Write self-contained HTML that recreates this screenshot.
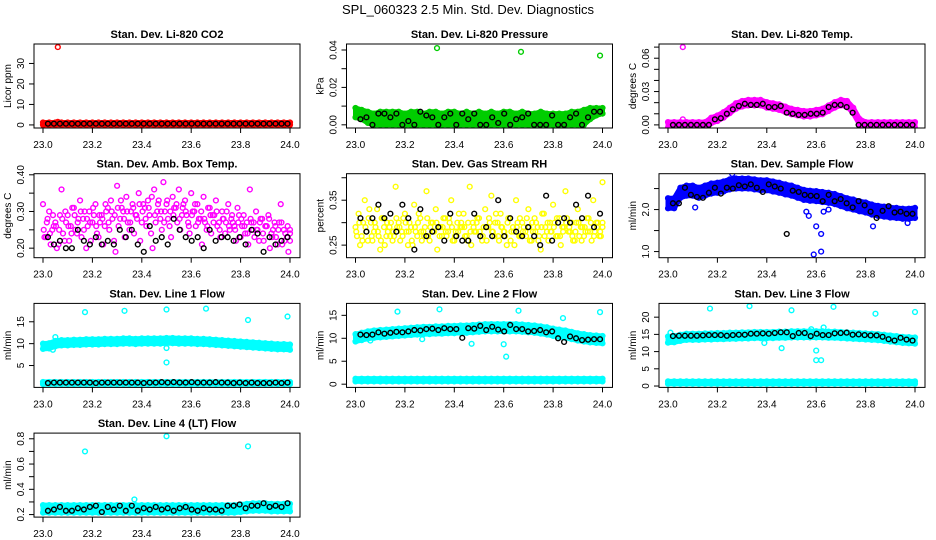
<!DOCTYPE html>
<html><head><meta charset="utf-8"><style>
html,body{margin:0;padding:0;background:#fff}
svg{display:block}
text{font-family:"Liberation Sans",sans-serif}
</style></head><body>
<svg id="chart" width="936" height="540" viewBox="0 0 936 540">
<text x="468" y="14" text-anchor="middle" font-size="13">SPL_060323  2.5 Min. Std. Dev. Diagnostics</text>
</svg>
<script>
// ---------- DATA ----------
const xTicks = [23.0, 23.2, 23.4, 23.6, 23.8, 24.0];
const xTickLabels = ["23.0","23.2","23.4","23.6","23.8","24.0"];

// CO2
const co2BandLo = [0,0,0,0,0,0,0,0,0,0,0,0,0,0,0,0,0,0,0,0,0,0,0,0,0,0,0,0,0,0,0,0,0,0,0,0,0,0,0,0,0];
const co2BandHi = [1.2,1.2,1.2,1.2,1.2,1.2,1.2,1.2,1.2,1.2,1.2,1.2,1.2,1.2,1.2,1.2,1.2,1.2,1.2,1.2,1.2,1.2,1.2,1.2,1.2,1.2,1.2,1.2,1.2,1.2,1.2,1.2,1.2,1.2,1.2,1.2,1.2,1.2,1.2,1.2,1.2];
const co2OutX = [23.06, 23.06]; const co2OutY = [38, 1.5];
const co2Black = [0.6,0.6,0.6,0.6,0.6,0.6,0.6,0.6,0.6,0.6,0.6,0.6,0.6,0.6,0.6,0.6,0.6,0.6,0.6,0.6,0.6,0.6,0.6,0.6,0.6,0.6,0.6,0.6,0.6,0.6,0.6,0.6,0.6,0.6,0.6,0.6,0.6,0.6,0.6,0.6,0.6];

// Pressure
const presBandLo = [0.004,0.003,0.001,0,0,0,0,0,0,0,0,0,0,0,0,0,0,0,0,0,0,0,0,0,0,0,0,0,0,0,0,0,0,0,0,0,0,0,0.003,0.005,0.006];
const presBandHi = [0.009,0.008,0.007,0.006,0.007,0.007,0.007,0.007,0.006,0.007,0.007,0.006,0.007,0.007,0.006,0.007,0.007,0.006,0.007,0.006,0.007,0.006,0.007,0.006,0.007,0.007,0.006,0.007,0.006,0.006,0.007,0.006,0.006,0.006,0.006,0.007,0.007,0.008,0.009,0.009,0.009];
const presOutX = [23.33, 23.67, 23.99]; const presOutY = [0.041, 0.039, 0.037];
const presBlack = [0.003,0.004,0.000,0.006,0.006,0.004,0.006,0.000,0.002,0.000,0.007,0.005,0.004,0.000,0.004,0.006,0.000,0.006,0.003,0.006,0.000,0.000,0.004,0.001,0.006,0.000,0.003,0.004,0.006,0.000,0.000,0.000,0.005,0.000,0.000,0.004,0.006,0.000,0.004,0.007,0.007];

// Li-820 Temp
const tempMid = [0,0,0,0,0,0,0,0.004,0.006,0.009,0.013,0.017,0.019,0.020,0.020,0.020,0.018,0.017,0.016,0.014,0.012,0.011,0.010,0.010,0.011,0.012,0.015,0.018,0.020,0.019,0.013,0.003,0,0,0,0,0,0,0,0,0];
const tempSpread = 0.0025;
const tempOutX = [23.06, 23.06]; const tempOutY = [0.070, 0.005];
const tempBlack = [0,0,0,0,0,0,0,0.005,0.006,0.010,0.014,0.017,0.019,0.018,0.018,0.019,0.016,0.016,0.017,0.011,0.010,0.009,0.009,0.010,0.010,0.011,0.016,0.018,0.018,0.016,0.011,0,0,0,0,0,0,0,0,0,0];

// Amb box temp
const ambA = [0.32,0.23,0.30,0.25,0.27,0.21,0.36,0.22,0.29,0.26,0.31,0.24,0.33,0.28,0.20,0.30,0.27,0.32,0.23,0.29,0.26,0.31,0.33,0.22,0.37,0.28,0.30,0.34,0.25,0.32,0.29,0.35,0.27,0.31,0.33,0.24,0.36,0.30,0.28,0.38,0.32,0.26,0.34,0.31,0.36,0.29,0.33,0.27,0.35,0.30,0.32,0.28,0.34,0.25,0.31,0.29,0.33,0.27,0.30,0.24,0.32,0.28,0.26,0.31,0.23,0.29,0.27,0.36,0.25,0.30,0.22,0.28,0.26,0.29,0.24,0.27,0.21,0.32,0.25,0.23,0.24];
const ambB = [0.23,0.28,0.21,0.26,0.20,0.29,0.24,0.27,0.22,0.31,0.25,0.28,0.23,0.30,0.26,0.22,0.29,0.24,0.27,0.21,0.30,0.25,0.28,0.19,0.26,0.31,0.23,0.27,0.30,0.24,0.28,0.22,0.32,0.26,0.29,0.20,0.27,0.33,0.25,0.30,0.28,0.23,0.31,0.27,0.25,0.32,0.29,0.24,0.30,0.26,0.28,0.21,0.27,0.31,0.24,0.29,0.26,0.23,0.28,0.30,0.25,0.27,0.22,0.29,0.26,0.24,0.21,0.27,0.23,0.25,0.28,0.22,0.26,0.20,0.25,0.23,0.27,0.21,0.24,0.19,0.22];
const ambC = [0.25,0.27,0.24,0.29,0.26,0.25,0.28,0.30,0.26,0.24,0.29,0.27,0.30,0.25,0.28,0.27,0.31,0.26,0.29,0.28,0.32,0.27,0.30,0.29,0.31,0.33,0.28,0.30,0.27,0.31,0.29,0.32,0.30,0.28,0.31,0.34,0.29,0.32,0.30,0.27,0.33,0.30,0.29,0.32,0.28,0.31,0.30,0.26,0.29,0.32,0.27,0.30,0.28,0.26,0.29,0.27,0.30,0.25,0.28,0.27,0.26,0.29,0.25,0.27,0.28,0.26,0.24,0.28,0.27,0.25,0.27,0.24,0.26,0.28,0.23,0.26,0.25,0.27,0.22,0.26,0.25];
const ambBlack = [0.23,0.21,0.22,0.20,0.20,0.25,0.22,0.21,0.23,0.21,0.22,0.21,0.25,0.23,0.25,0.21,0.19,0.26,0.22,0.23,0.21,0.28,0.25,0.23,0.22,0.23,0.20,0.25,0.22,0.23,0.23,0.22,0.23,0.21,0.25,0.24,0.19,0.23,0.21,0.22,0.23];

// Gas stream RH
const rhA = [0.29,0.32,0.27,0.35,0.26,0.30,0.28,0.33,0.24,0.31,0.27,0.29,0.26,0.38,0.30,0.28,0.32,0.25,0.29,0.34,0.27,0.31,0.28,0.37,0.26,0.30,0.33,0.29,0.27,0.31,0.28,0.35,0.26,0.30,0.29,0.32,0.27,0.38,0.30,0.28,0.31,0.26,0.33,0.29,0.36,0.27,0.30,0.32,0.28,0.25,0.31,0.29,0.35,0.27,0.30,0.28,0.33,0.26,0.31,0.29,0.24,0.32,0.28,0.30,0.34,0.27,0.31,0.29,0.37,0.28,0.30,0.26,0.33,0.29,0.27,0.31,0.28,0.35,0.30,0.27,0.39];
const rhB = [0.27,0.25,0.30,0.28,0.33,0.26,0.29,0.27,0.31,0.25,0.28,0.30,0.27,0.29,0.26,0.31,0.28,0.30,0.25,0.28,0.32,0.26,0.29,0.27,0.30,0.28,0.24,0.29,0.31,0.27,0.30,0.26,0.28,0.32,0.29,0.27,0.30,0.25,0.28,0.31,0.27,0.29,0.26,0.30,0.28,0.32,0.26,0.29,0.27,0.31,0.28,0.25,0.30,0.27,0.29,0.31,0.26,0.28,0.30,0.27,0.32,0.29,0.26,0.28,0.30,0.27,0.25,0.29,0.31,0.28,0.26,0.30,0.27,0.29,0.28,0.31,0.26,0.28,0.30,0.27,0.29];
const rhC = [0.28,0.30,0.26,0.29,0.31,0.27,0.30,0.28,0.26,0.29,0.30,0.27,0.28,0.31,0.29,0.27,0.30,0.28,0.26,0.29,0.30,0.28,0.27,0.31,0.29,0.28,0.30,0.27,0.29,0.28,0.31,0.29,0.27,0.28,0.30,0.29,0.26,0.28,0.29,0.30,0.28,0.27,0.29,0.31,0.28,0.30,0.27,0.29,0.28,0.30,0.26,0.28,0.29,0.31,0.28,0.27,0.29,0.30,0.28,0.26,0.29,0.27,0.30,0.28,0.29,0.31,0.27,0.28,0.30,0.29,0.27,0.28,0.30,0.26,0.29,0.28,0.30,0.27,0.29,0.28,0.30];
const rhBlack = [0.31,0.28,0.31,0.34,0.31,0.32,0.28,0.34,0.31,0.24,0.33,0.27,0.28,0.29,0.26,0.32,0.27,0.26,0.26,0.32,0.27,0.29,0.27,0.35,0.27,0.31,0.28,0.27,0.29,0.27,0.25,0.36,0.26,0.30,0.31,0.30,0.34,0.31,0.36,0.29,0.32];

// Sample flow
const sfMid = [2.15,2.15,2.40,2.45,2.45,2.40,2.45,2.50,2.52,2.55,2.60,2.62,2.62,2.62,2.60,2.58,2.58,2.55,2.52,2.48,2.45,2.40,2.35,2.33,2.32,2.30,2.28,2.25,2.20,2.15,2.12,2.08,2.05,2.00,1.97,1.95,1.93,1.92,1.90,1.90,1.92];
const sfSpread = 0.12;
const sfOutX = [23.59,23.62,23.60,23.62,23.57,23.56,23.83,23.11,23.63,23.65,23.26,23.97];
const sfOutY = [0.93,1.00,1.60,1.42,1.85,1.95,1.60,2.05,1.95,2.00,2.85,1.68];
const sfBlack = [2.15,2.15,2.52,2.35,2.30,2.28,2.40,2.52,2.38,2.52,2.50,2.58,2.55,2.60,2.52,2.42,2.60,2.55,2.50,1.42,2.45,2.42,2.35,2.33,2.32,2.20,2.35,2.20,2.25,2.15,2.05,2.20,2.10,1.95,1.80,1.97,2.08,1.93,1.95,1.90,1.90];

// Line 1 flow
const l1Mid = [9.4,9.5,10.0,10.2,10.2,10.3,10.3,10.4,10.4,10.4,10.5,10.5,10.5,10.6,10.6,10.5,10.6,10.6,10.6,10.6,10.7,10.7,10.6,10.6,10.6,10.5,10.5,10.4,10.3,10.2,10.1,10.0,9.9,9.8,9.7,9.6,9.5,9.4,9.3,9.3,9.2];
const l1Spread = 0.6;
const l1LowMid = [1.0,1.0,1.0,1.0,1.0,1.0,1.0,1.0,1.0,1.0,1.0,1.0,1.0,1.0,1.0,1.0,1.0,1.0,1.0,1.0,1.0,1.0,1.0,1.0,1.0,1.0,1.0,1.0,1.0,1.0,1.0,1.0,1.0,1.0,1.0,1.0,1.0,1.0,1.0,1.0,1.0];
const l1OutX = [23.17,23.33,23.50,23.66,23.83,23.99,23.50,23.05,23.50,23.04];
const l1OutY = [17.2,17.5,17.8,18.0,15.4,16.2,5.7,11.5,9.0,8.6];
const l1Black = [1.0,1.1,1.1,1.1,1.1,1.1,1.1,1.1,1.0,1.1,1.1,1.1,1.1,1.1,1.1,1.1,1.0,1.1,1.1,1.2,1.1,1.2,1.1,1.1,1.2,1.1,1.1,1.1,1.2,1.1,1.1,1.0,1.1,1.0,1.1,1.0,1.0,1.0,1.1,1.0,1.1];

// Line 2 flow
const l2Mid = [10.1,10.4,10.7,10.9,11.0,11.1,11.2,11.3,11.4,11.5,11.6,11.7,11.7,11.8,11.8,11.9,11.9,12.0,12.0,12.1,12.2,12.3,12.3,12.3,12.3,12.3,12.3,12.2,12.1,12.0,11.8,11.6,11.3,11.1,10.9,10.6,10.3,10.1,9.9,9.8,9.7];
const l2Spread = 0.8;
const l2LowMid = [0.9,0.9,0.9,0.9,0.9,0.9,0.9,0.9,0.9,0.9,0.9,0.9,0.9,0.9,0.9,0.9,0.9,0.9,0.9,0.9,0.9,0.9,0.9,0.9,0.9,0.9,0.9,0.9,0.9,0.9,0.9,0.9,0.9,0.9,0.9,0.9,0.9,0.9,0.9,0.9,0.9];
const l2OutX = [23.17,23.34,23.66,23.84,23.99,23.61,23.60,23.47,23.06,23.27];
const l2OutY = [15.8,16.3,16.0,14.4,15.7,6.0,8.7,8.8,9.5,9.8];
const l2Black = [10.8,10.7,10.8,11.3,11.0,11.2,11.4,11.3,11.5,11.8,11.7,12.0,12.1,11.8,12.2,12.0,12.0,10.1,12.2,12.1,12.7,11.8,12.5,11.9,11.5,12.9,12.0,12.0,11.5,11.6,11.8,11.3,11.5,10.0,9.2,10.4,10.0,9.6,9.7,9.8,9.8];

// Line 3 flow
const l3Mid = [13.5,13.6,14.0,14.3,14.3,14.3,14.4,14.4,14.5,14.5,14.6,14.6,14.7,14.7,14.8,14.8,14.8,14.8,14.9,14.9,15.0,15.0,15.0,15.0,15.0,15.0,14.9,14.9,14.8,14.7,14.6,14.5,14.4,14.3,14.2,14.0,13.8,13.6,13.4,13.3,13.2];
const l3Spread = 0.9;
const l3LowMid = [1.0,1.0,1.0,1.0,1.0,1.0,1.0,1.0,1.0,1.0,1.0,1.0,1.0,1.0,1.0,1.0,1.0,1.0,1.0,1.0,1.0,1.0,1.0,1.0,1.0,1.0,1.0,1.0,1.0,1.0,1.0,1.0,1.0,1.0,1.0,1.0,1.0,1.0,1.0,1.0,1.0];
const l3OutX = [23.17,23.33,23.50,23.67,23.84,24.00,23.60,23.60,23.62,23.46,23.39,23.01,23.58,23.63];
const l3OutY = [22.5,23.2,22.0,23.0,21.0,21.5,10.3,7.5,7.5,11.0,12.5,15.5,16.5,17.0];
const l3Black = [14.5,14.6,14.6,14.6,14.6,14.7,14.8,14.8,14.8,14.6,14.8,14.9,14.9,15.2,15.2,15.3,15.2,15.4,15.6,15.6,14.5,15.4,15.4,14.5,15.2,14.8,14.8,15.3,15.4,15.5,14.9,15.0,14.8,14.7,14.7,14.3,13.6,13.2,14.0,13.5,13.2];

// Line 4 flow
const l4Mid = [0.245,0.245,0.245,0.245,0.245,0.245,0.245,0.245,0.245,0.245,0.245,0.245,0.245,0.245,0.245,0.245,0.245,0.245,0.245,0.245,0.245,0.245,0.245,0.245,0.245,0.245,0.245,0.245,0.245,0.245,0.245,0.245,0.25,0.255,0.26,0.26,0.26,0.255,0.255,0.255,0.255];
const l4Spread = 0.03;
const l4OutX = [23.17,23.50,23.83,23.37]; const l4OutY = [0.70,0.82,0.74,0.32];
const l4Black = [0.23,0.24,0.26,0.23,0.23,0.25,0.24,0.26,0.27,0.22,0.26,0.24,0.27,0.23,0.27,0.23,0.25,0.24,0.26,0.24,0.25,0.23,0.25,0.26,0.24,0.23,0.25,0.24,0.24,0.23,0.27,0.27,0.28,0.25,0.27,0.27,0.29,0.26,0.27,0.26,0.29];

// ---------- DRAWING ----------
const svg = document.getElementById('chart');
const NS = 'http://www.w3.org/2000/svg';
function mk(tag, attrs, parent){ const e=document.createElementNS(NS,tag); for(const k in attrs) e.setAttribute(k,attrs[k]); (parent||svg).appendChild(e); return e; }
function gridX(n, i){ return 23 + i/(n-1); }

const panels = [
 {title:"Stan. Dev. Li-820 CO2", ylab:"Licor ppm", c:0,r:0, dom:[-1.5,39.5], ticks:[0,10,20,30], labs:["0","10","20","30"], color:"#ff0000"},
 {title:"Stan. Dev. Li-820 Pressure", ylab:"kPa", c:1,r:0, dom:[-0.0017,0.0432], ticks:[0,0.01,0.02,0.03,0.04], labs:["0.00","","0.02","","0.04"], color:"#00cd00"},
 {title:"Stan. Dev. Li-820 Temp.", ylab:"degrees C", c:2,r:0, dom:[-0.0028,0.0728], ticks:[0,0.01,0.02,0.03,0.04,0.05,0.06,0.07], labs:["0.00","","","0.03","","","0.06",""], color:"#ff00ff"},
 {title:"Stan. Dev. Amb. Box Temp.", ylab:"degrees C", c:0,r:1, dom:[0.174,0.403], ticks:[0.2,0.25,0.3,0.35,0.4], labs:["0.20","","0.30","","0.40"], color:"#ff00ff"},
 {title:"Stan. Dev. Gas Stream RH", ylab:"percent", c:1,r:1, dom:[0.222,0.409], ticks:[0.25,0.3,0.35,0.4], labs:["0.25","","0.35",""], color:"#ffff00"},
 {title:"Stan. Dev. Sample Flow", ylab:"ml/min", c:2,r:1, dom:[0.854,2.854], ticks:[1,1.5,2,2.5], labs:["1.0","","2.0",""], color:"#0000ff"},
 {title:"Stan. Dev. Line 1 Flow", ylab:"ml/min", c:0,r:2, dom:[0,19.2], ticks:[5,10,15], labs:["5","10","15"], color:"#00ffff"},
 {title:"Stan. Dev. Line 2 Flow", ylab:"ml/min", c:1,r:2, dom:[-0.7,17.6], ticks:[0,5,10,15], labs:["0","5","10","15"], color:"#00ffff"},
 {title:"Stan. Dev. Line 3 Flow", ylab:"ml/min", c:2,r:2, dom:[-0.4,24.0], ticks:[0,5,10,15,20], labs:["0","5","10","15","20"], color:"#00ffff"},
 {title:"Stan. Dev. Line 4 (LT) Flow", ylab:"ml/min", c:0,r:3, dom:[0.18,0.845], ticks:[0.2,0.3,0.4,0.5,0.6,0.7,0.8], labs:["0.2","","0.4","","0.6","","0.8"], color:"#00ffff"}
];

function setup(p, idx){
  const bx = 34 + 312.5*p.c, by = 44 + 129.7*p.r, bw = 266, bh = 84;
  const g = mk('g', {});
  
  
  p.g = g;
  p.sx = x => bx + 9 + (x-23)*247;
  p.sy = y => by + bh - (y - p.dom[0])/(p.dom[1]-p.dom[0])*bh;
  const clipId = 'clip'+idx;
  const cp = mk('clipPath', {id:clipId}, g); mk('rect',{x:bx,y:by,width:bw,height:bh},cp);
  p.plot = mk('g', {'clip-path':'url(#'+clipId+')'}, g);
  
  
  const t = mk('text', {x:bx+bw/2, y:by-6, 'text-anchor':'middle', 'font-size':11, 'font-weight':'bold'}, g);
  t.textContent = p.title;
  
  
  const yl = mk('text', {transform:'translate('+(bx-23)+','+(by+bh/2)+') rotate(-90)', 'text-anchor':'middle', 'font-size':10}, g);
  yl.textContent = p.ylab;
  
  
  xTicks.forEach((v,i)=>{
    const X = p.sx(v);
    mk('line',{x1:X,x2:X,y1:by+bh,y2:by+bh+5,stroke:'#000','stroke-width':1},g);
    const tl = mk('text',{x:X,y:by+bh+20,'text-anchor':'middle','font-size':10},g);
    tl.textContent = xTickLabels[i];
    
    
  });
  p.ticks.forEach((v,i)=>{
    const Y = p.sy(v);
    mk('line',{x1:bx-5,x2:bx,y1:Y,y2:Y,stroke:'#000','stroke-width':1},g);
    if(p.labs[i]){
      const tl = mk('text',{transform:'translate('+(bx-10)+','+Y+') rotate(-90)','text-anchor':'middle','font-size':10},g);
      tl.textContent = p.labs[i];
      
      
    }
  });
  const box = mk('rect',{x:bx,y:by,width:bw,height:bh,fill:'none',stroke:'#000','stroke-width':1},g);
  
  
}

function pt(p, x, y, color, name){
  const c = mk('circle',{cx:p.sx(x),cy:p.sy(y),r:2.4,fill:'none',stroke:color,'stroke-width':1.4},p.plot);
  
  
}
function band(p, lo, hi, color, name){
  const n = lo.length; let pts = [];
  for(let i=0;i<n;i++) pts.push(p.sx(gridX(n,i))+','+p.sy(hi[i]));
  for(let i=n-1;i>=0;i--) pts.push(p.sx(gridX(n,i))+','+p.sy(lo[i]));
  const poly = mk('polygon',{points:pts.join(' '),fill:color,stroke:color,'stroke-width':5,'stroke-linejoin':'round'},p.plot);
  
  
  for(let i=0;i<n;i++){ pt(p,gridX(n,i),hi[i],color,name+'-point'); pt(p,gridX(n,i),lo[i],color,name+'-point'); }
}
function bandMid(p, mid, s, color, name){
  band(p, mid.map(v=>v-s), mid.map(v=>v+s), color, name);
}
function series(p, vals, color, name){
  const n = vals.length;
  vals.forEach((v,i)=>pt(p, 23.02 + (i/(n-1))*0.97, v, color, name));
}
function outs(p, xs, ys, color){ xs.forEach((x,i)=>pt(p,x,ys[i],color,'outlier-point')); }
function cloud(p, vals, color, off){ const n=vals.length; vals.forEach((v,i)=>pt(p,Math.min(24,gridX(n,i)+off),v,color,'scatter-point')); }

panels.forEach(setup);
const [P1,P2,P3,P4,P5,P6,P7,P8,P9,P10] = panels;

band(P1, co2BandLo, co2BandHi, P1.color, 'co2-band'); outs(P1, co2OutX, co2OutY, P1.color); series(P1, co2Black, '#000', 'co2-black-point');
band(P2, presBandLo, presBandHi, P2.color, 'pressure-band'); outs(P2, presOutX, presOutY, P2.color); series(P2, presBlack, '#000', 'pressure-black-point');
bandMid(P3, tempMid, tempSpread, P3.color, 'temp-band'); outs(P3, tempOutX, tempOutY, P3.color); series(P3, tempBlack, '#000', 'temp-black-point');
cloud(P4, ambA, P4.color, 0); cloud(P4, ambB, P4.color, 0.006); cloud(P4, ambC, P4.color, 0.003); series(P4, ambBlack, '#000', 'amb-black-point');
cloud(P5, rhA, P5.color, 0); cloud(P5, rhB, P5.color, 0.006); cloud(P5, rhC, P5.color, 0.003); series(P5, rhBlack, '#000', 'rh-black-point');
bandMid(P6, sfMid, sfSpread, P6.color, 'sample-band'); outs(P6, sfOutX, sfOutY, P6.color); series(P6, sfBlack, '#000', 'sample-black-point');
bandMid(P7, l1Mid, l1Spread, P7.color, 'line1-band'); bandMid(P7, l1LowMid, 0.25, P7.color, 'line1-low-band'); outs(P7, l1OutX, l1OutY, P7.color); series(P7, l1Black, '#000', 'line1-black-point');
bandMid(P8, l2Mid, l2Spread, P8.color, 'line2-band'); bandMid(P8, l2LowMid, 0.3, P8.color, 'line2-low-band'); outs(P8, l2OutX, l2OutY, P8.color); series(P8, l2Black, '#000', 'line2-black-point');
bandMid(P9, l3Mid, l3Spread, P9.color, 'line3-band'); bandMid(P9, l3LowMid, 0.35, P9.color, 'line3-low-band'); outs(P9, l3OutX, l3OutY, P9.color); series(P9, l3Black, '#000', 'line3-black-point');
bandMid(P10, l4Mid, l4Spread, P10.color, 'line4-band'); outs(P10, l4OutX, l4OutY, P10.color); series(P10, l4Black, '#000', 'line4-black-point');
</script>
</body></html>
